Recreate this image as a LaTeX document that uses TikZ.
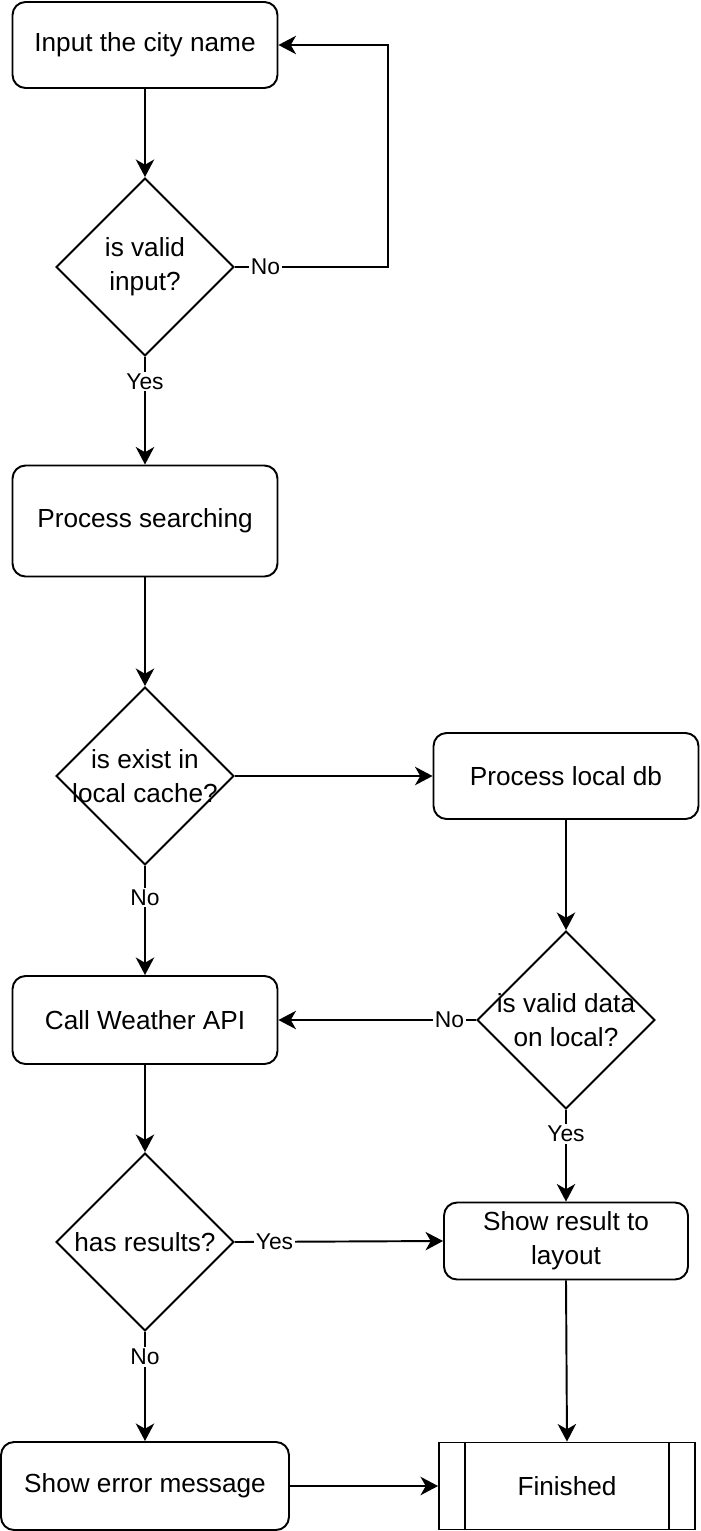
\documentclass[tikz,border=0pt]{standalone}
\usepackage{fontspec}
\setmainfont{Liberation Sans}
\usetikzlibrary{positioning,arrows.meta,shapes.geometric,calc}

\tikzset{
    box/.style={draw,rounded corners=0.26cm,line width=1.1pt,align=center,
        minimum width=5.3cm,minimum height=1.72cm,font=\fontsize{14.9}{19.3}\selectfont},
    decision/.style={draw,diamond,line width=1.1pt,inner sep=0pt,
        minimum width=3.56cm,minimum height=3.56cm},
    dtext/.style={align=center,font=\fontsize{14.9}{19.3}\selectfont},
    lbl/.style={fill=white,inner sep=1pt,font=\fontsize{13}{15}\selectfont},
    arrow/.style={line width=1.1pt,-{Stealth[length=10pt,width=10.5pt,inset=3pt]}}
}

\begin{document}
\begin{tikzpicture}[x=0.02cm,y=-0.02cm]
    \useasboundingbox (0,0) rectangle (700,1531);

    % Entree
    \node[box] (in) at (145,45) {Input the city name};
    \node[decision,label={[dtext]center:is valid\\input?}] (valid) at (145,267) {};
    \node[box,minimum height=2.22cm] (search) at (145,521) {Process searching};

    % Cache
    \node[decision,label={[dtext]center:is exist in\\local cache?}] (cache) at (145,776) {};
    \node[box] (localdb) at (566,776) {Process local db};
    \node[decision,label={[dtext]center:is valid data\\on local?}] (local) at (566,1020) {};

    % API
    \node[box,minimum height=1.76cm] (api) at (145,1020) {Call Weather API};
    \node[decision,label={[dtext]center:has results?}] (results) at (145,1242) {};

    % Sorties
    \node[box,minimum width=4.88cm,minimum height=1.54cm] (show) at (566,1241) {Show result to\\layout};
    \node[box,minimum width=5.76cm,minimum height=1.76cm] (error) at (145,1486) {Show error message};
    \node[draw,line width=1.1pt,minimum width=5.12cm,minimum height=1.74cm,
        font=\fontsize{14.9}{19.3}\selectfont] (fin) at (567,1486) {Finished};
    \draw[line width=1.1pt] ([xshift=0.54cm]fin.north west) -- ([xshift=0.54cm]fin.south west);
    \draw[line width=1.1pt] ([xshift=-0.54cm]fin.north east) -- ([xshift=-0.54cm]fin.south east);

    % Fleches
    \coordinate (loop) at (388,267);
    \draw[arrow] (in) -- (valid);
    \draw[arrow] (valid.east) -- node[lbl,pos=0.2] {No} (loop) |- (in.east);
    \draw[arrow] (valid.south) -- node[lbl,pos=0.23] {Yes} (search.north);
    \draw[arrow] (search) -- (cache);
    \draw[arrow] (cache.east) -- (localdb.west);
    \draw[arrow] (cache.south) -- node[lbl,pos=0.29] {No} (api.north);
    \draw[arrow] (localdb) -- (local);
    \draw[arrow] (local.west) -- node[lbl,pos=0.135] {No} (api.east);
    \draw[arrow] (local.south) -- node[lbl,pos=0.26] {Yes} (show.north);
    \draw[arrow] (api) -- (results);
    \draw[arrow] (results.east) -- node[lbl,pos=0.19] {Yes} (show.west);
    \draw[arrow] (results.south) -- node[lbl,pos=0.23] {No} (error.north);
    \draw[arrow] (error) -- (fin);
    \draw[arrow] (show.south) -- (fin.north);
\end{tikzpicture}
\end{document}
